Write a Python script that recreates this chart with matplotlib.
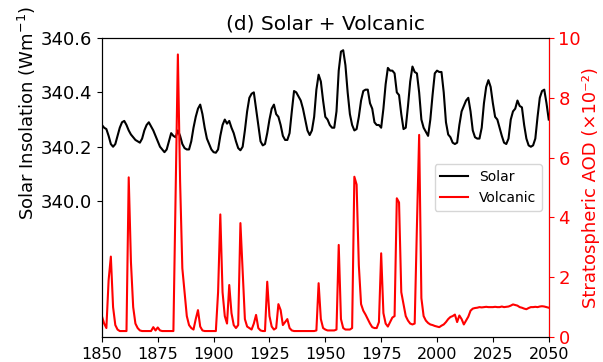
import numpy as np
import matplotlib
matplotlib.use("Agg")
import matplotlib.pyplot as plt

# annual solar insolation (W m-2), 1850-2050
solar = [
    340.28, 340.27, 340.265, 340.24, 340.21, 340.20, 340.21, 340.24, 340.27, 340.29,   # 1850s
    340.295, 340.28, 340.26, 340.245, 340.235, 340.225, 340.22, 340.215, 340.23, 340.26,  # 1860s
    340.28, 340.29, 340.275, 340.26, 340.24, 340.22, 340.20, 340.19, 340.18, 340.19,    # 1870s
    340.22, 340.25, 340.24, 340.235, 340.26, 340.24, 340.21, 340.195, 340.19, 340.19,   # 1880s
    340.22, 340.27, 340.31, 340.34, 340.355, 340.32, 340.27, 340.23, 340.21, 340.19,    # 1890s
    340.18, 340.178, 340.19, 340.24, 340.28, 340.30, 340.285, 340.295, 340.27, 340.25,  # 1900s
    340.22, 340.195, 340.187, 340.20, 340.26, 340.33, 340.38, 340.395, 340.40, 340.34,  # 1910s
    340.28, 340.22, 340.205, 340.21, 340.25, 340.30, 340.34, 340.355, 340.32, 340.31,   # 1920s
    340.28, 340.24, 340.225, 340.225, 340.25, 340.33, 340.405, 340.40, 340.385, 340.37, # 1930s
    340.34, 340.30, 340.26, 340.243, 340.26, 340.31, 340.41, 340.465, 340.44, 340.37,   # 1940s
    340.31, 340.30, 340.28, 340.27, 340.27, 340.33, 340.48, 340.55, 340.555, 340.50,    # 1950s
    340.40, 340.32, 340.28, 340.26, 340.265, 340.31, 340.37, 340.405, 340.41, 340.41,   # 1960s
    340.36, 340.34, 340.29, 340.28, 340.28, 340.27, 340.34, 340.43, 340.49, 340.48,     # 1970s
    340.48, 340.47, 340.40, 340.39, 340.32, 340.265, 340.27, 340.35, 340.44, 340.495,   # 1980s
    340.475, 340.47, 340.40, 340.30, 340.27, 340.255, 340.24, 340.30, 340.39, 340.47,   # 1990s
    340.48, 340.475, 340.475, 340.40, 340.29, 340.245, 340.235, 340.215, 340.21, 340.215, # 2000s
    340.28, 340.33, 340.35, 340.37, 340.38, 340.33, 340.26, 340.235, 340.23, 340.23,    # 2010s
    340.27, 340.36, 340.42, 340.445, 340.42, 340.36, 340.31, 340.30, 340.27, 340.24,    # 2020s
    340.215, 340.21, 340.23, 340.30, 340.33, 340.34, 340.37, 340.35, 340.345, 340.28,   # 2030s
    340.23, 340.205, 340.20, 340.205, 340.23, 340.31, 340.38, 340.405, 340.41, 340.36,  # 2040s
    340.30,
]

# stratospheric AOD (x 1e-2), 1850-2050
volcanic = [
    0.70, 0.45, 0.30, 1.9, 2.69, 1.0, 0.4, 0.25, 0.2, 0.2,        # 1850s
    0.2, 0.2, 5.34, 2.5, 1.0, 0.45, 0.3, 0.22, 0.2, 0.2,          # 1860s
    0.2, 0.2, 0.2, 0.33, 0.22, 0.32, 0.22, 0.2, 0.2, 0.2,         # 1870s
    0.2, 0.2, 0.2, 4.9, 9.45, 5.2, 2.3, 1.5, 0.7, 0.4,            # 1880s
    0.3, 0.25, 0.6, 0.9, 0.35, 0.22, 0.2, 0.2, 0.2, 0.2,          # 1890s
    0.2, 0.2, 1.5, 4.1, 1.5, 0.7, 0.45, 1.74, 0.8, 0.4,           # 1900s
    0.3, 0.4, 3.81, 2.2, 0.6, 0.35, 0.3, 0.25, 0.45, 0.74,        # 1910s
    0.3, 0.22, 0.2, 0.2, 1.85, 0.7, 0.35, 0.25, 0.3, 1.1,         # 1920s
    0.9, 0.4, 0.5, 0.6, 0.3, 0.22, 0.2, 0.2, 0.2, 0.2,            # 1930s
    0.2, 0.2, 0.2, 0.2, 0.2, 0.2, 0.22, 1.8, 0.6, 0.3,            # 1940s
    0.25, 0.22, 0.22, 0.22, 0.22, 0.25, 3.08, 0.6, 0.3, 0.25,     # 1950s
    0.25, 0.25, 0.3, 5.36, 5.1, 2.4, 1.1, 0.88, 0.75, 0.6,        # 1960s
    0.45, 0.33, 0.3, 0.3, 0.5, 2.8, 0.8, 0.45, 0.35, 0.5,         # 1970s
    0.65, 0.7, 4.64, 4.5, 1.5, 1.1, 0.7, 0.55, 0.45, 0.42,        # 1980s
    0.45, 3.7, 6.76, 1.3, 0.7, 0.55, 0.47, 0.42, 0.4, 0.37,       # 1990s
    0.35, 0.33, 0.38, 0.42, 0.5, 0.6, 0.67, 0.7, 0.75, 0.5,       # 2000s
    0.72, 0.6, 0.42, 0.55, 0.68, 0.88, 0.95, 0.97, 0.98, 1.0,     # 2010s
    0.99, 1.0, 1.01, 1.0, 1.0, 1.0, 1.01, 1.0, 1.0, 1.02,         # 2020s
    1.0, 1.01, 1.02, 1.05, 1.09, 1.07, 1.05, 1.0, 0.98, 0.95,     # 2030s
    0.93, 0.97, 1.0, 1.0, 1.01, 1.0, 1.02, 1.03, 1.02, 1.0,       # 2040s
    0.98,
]

years = np.arange(1850, 1850 + len(solar))
years_v = np.arange(1850, 1850 + len(volcanic))

fig, ax = plt.subplots(figsize=(6.03, 3.62), dpi=100)
fig.subplots_adjust(left=0.169, right=0.910, top=0.895, bottom=0.069)

l1, = ax.plot(years, solar, color="black", lw=1.5, label="Solar")
ax.set_xlim(1850, 2050)
ax.set_ylim(339.5, 340.6)
ax.set_yticks([340.0, 340.2, 340.4, 340.6])
ax.set_xticks([1850, 1875, 1900, 1925, 1950, 1975, 2000, 2025, 2050])
ax.tick_params(axis="y", labelsize=13)
ax.tick_params(axis="x", labelsize=11.5)
ax.set_ylabel("Solar Insolation (Wm$^{-1}$)", fontsize=13)
ax.yaxis.set_label_coords(-0.142, 0.75)
ax.set_title("(d) Solar + Volcanic", fontsize=14.5)

ax2 = ax.twinx()
l2, = ax2.plot(years_v, volcanic, color="red", lw=1.5, label="Volcanic")
ax2.set_ylim(0, 10)
ax2.set_yticks([0, 2, 4, 6, 8, 10])
ax2.tick_params(axis="y", colors="red", labelsize=13)
ax2.spines["right"].set_color("red")
ax2.set_ylabel("Stratospheric AOD (\u00d710\u207b\u00b2)", color="red",
               fontsize=13, labelpad=1)

ax.legend(handles=[l1, l2], loc="center right", fontsize=10)

fig.savefig("out.png", dpi=100)
